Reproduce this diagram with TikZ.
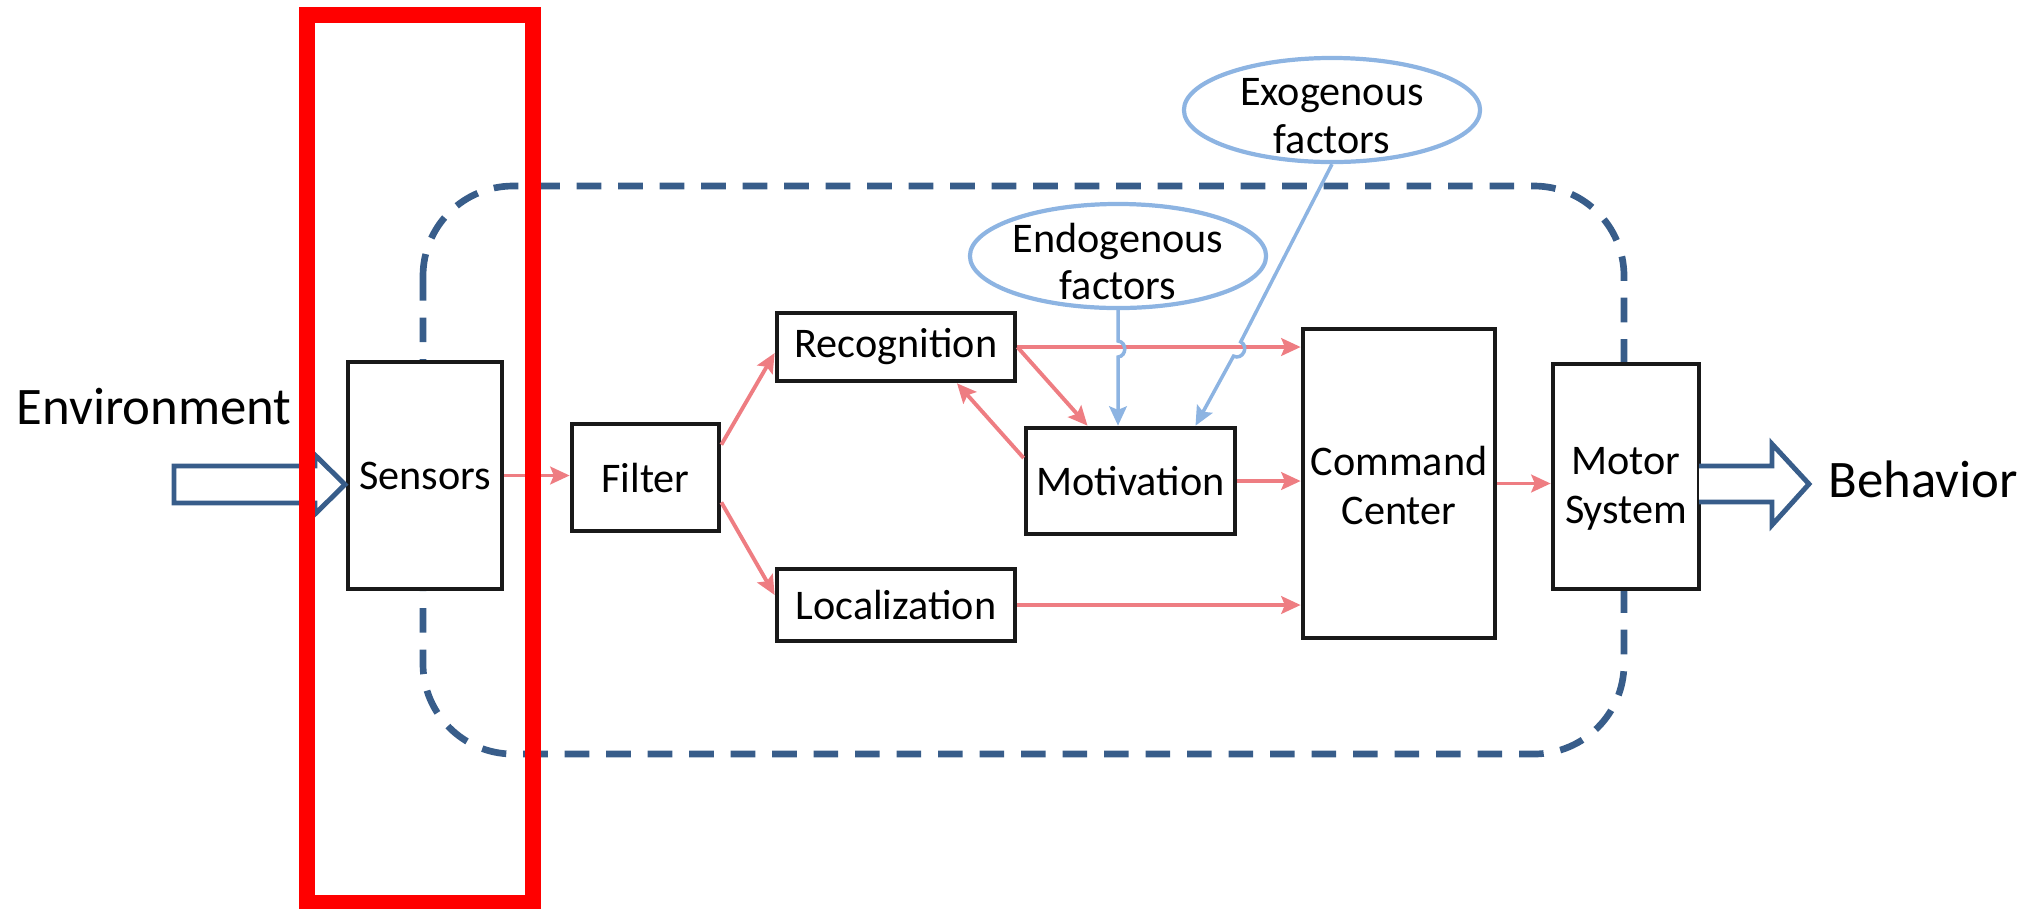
\documentclass[tikz,border=0pt]{standalone}
\usepackage{fontspec}
\setmainfont{Carlito}
\usetikzlibrary{arrows.meta,shapes.geometric,calc}
\definecolor{boxline}{RGB}{25,25,25}
\definecolor{redline}{RGB}{238,125,130}
\definecolor{blueline}{RGB}{141,180,226}
\definecolor{darkblue}{RGB}{56,93,138}
\definecolor{hilite}{RGB}{255,0,0}
\tikzset{
  blockbox/.style={draw=boxline, line width=1.3pt, fill=white, rectangle, inner sep=0pt,
    align=center, font=\fontsize{12}{14}\selectfont},
  boxtext/.style={align=center, font=\fontsize{12}{14}\selectfont, inner sep=0pt},
  factor/.style={draw=blueline, line width=1.2pt, ellipse, inner sep=0pt,
    minimum width=2.96cm, minimum height=1.04cm},
  factortext/.style={align=center, font=\fontsize{12}{13.5}\selectfont, inner sep=0pt},
  redarrow/.style={draw=redline, line width=1.1pt, -{Stealth[length=5.5pt,width=5pt,inset=1pt]}},
  bluearrow/.style={draw=blueline, line width=1pt, -{Stealth[length=5.5pt,width=5pt,inset=1pt]}},
  bigtext/.style={font=\fontsize{15}{18}\selectfont, inner sep=0pt},
  hollowarrow/.style={draw=darkblue, line width=1.4pt, fill=white, line join=miter},
}
\begin{document}
\begin{tikzpicture}[x=0.01cm, y=-0.01cm]
\useasboundingbox (0,0) rectangle (2039,908);

% dashed system boundary
\draw[darkblue, line width=1.9pt, dash pattern=on 7pt off 4.8pt, rounded corners=0.9cm]
  (423,186) rectangle (1624,754);

% blocks
\node[blockbox, minimum width=1.54cm, minimum height=2.27cm] (sensors) at (425,475.5) {Sensors};
\node[blockbox, minimum width=1.47cm, minimum height=1.07cm] (filter) at (645.5,477.5) {Filter};
\node[blockbox, minimum width=2.38cm, minimum height=0.68cm] (recog) at (896,347) {Recognition};
\node[blockbox, minimum width=2.38cm, minimum height=0.72cm] (loc) at (896,605) {Localization};
\node[blockbox, minimum width=2.09cm, minimum height=1.06cm] (motiv) at (1130.5,481) {Motivation};
\node[blockbox, minimum width=1.92cm, minimum height=3.09cm,
  label={[boxtext, yshift=-0.6pt]center:Command\\Center}] (cc) at (1399,483.5) {};
\node[blockbox, minimum width=1.46cm, minimum height=2.25cm,
  label={[boxtext, yshift=-3.6pt]center:Motor\\System}] (motor) at (1626,476.5) {};

% factor ellipses
\node[factor, label={[factortext, yshift=-1.6pt]center:Endogenous\\factors}] (endo) at (1118,256) {};
\node[factor, label={[factortext, yshift=-1.8pt]center:Exogenous\\factors}] (exo) at (1332,110) {};

% labels
\node[bigtext, anchor=base west] (env) at (16,424) {Environment};
\node[bigtext, anchor=base west] (beh) at (1828,497) {Behavior};

% hollow block arrows
\draw[hollowarrow] (174,466) -- (315,466) -- (315,455) -- (345,484.5) -- (315,514) -- (315,503) -- (174,503) -- cycle;
\draw[hollowarrow] (1699,466) -- (1772,466) -- (1772,444) -- (1809,484) -- (1772,525) -- (1772,502) -- (1699,502);

% red connectors
\draw[redarrow] (sensors.east) -- (sensors.east -| filter.west);
\draw[redarrow] ($(filter.north east)+(0,23)$) -- ($(recog.west)+(0,6)$);
\draw[redarrow] ($(filter.south east)+(0,-31)$) -- ($(loc.west)+(0,-10)$);
\draw[redarrow] (recog.east) -- (recog.east -| cc.west);
\draw[redarrow] (recog.east) -- ($(motiv.north)+(-43,0)$);
\draw[redarrow] ($(motiv.west)+(0,-23)$) -- ($(recog.south)+(61,0)$);
\draw[redarrow] (motiv.east) -- (motiv.east -| cc.west);
\draw[redarrow] (loc.east) -- (loc.east -| cc.west);
\draw[redarrow] (cc.east) -- (cc.east -| motor.west);

% blue connectors with hops over the red line
\coordinate (enha) at (1118,341);
\coordinate (enhb) at (1118,357);
\draw[bluearrow] (endo.south) -- (enha) .. controls (1127,342) and (1127,356) .. (enhb) -- (endo.south |- motiv.north);
\coordinate (exha) at (1240.7,341.9);
\coordinate (exhb) at (1233.5,356.1);
\coordinate (exend) at ($(motiv.north)+(65,0)$);
\draw[bluearrow] (exo.south) -- (exha) .. controls (1249.6,346.4) and (1242.4,360.6) .. (exhb) -- (exend);

% highlight frame
\draw[hilite, line width=4.55pt] (306.5,14.5) rectangle (533,902.5);
\end{tikzpicture}
\end{document}
